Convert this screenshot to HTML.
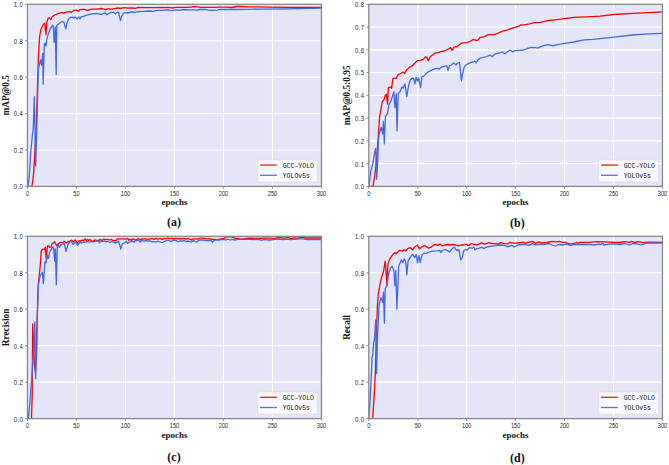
<!DOCTYPE html><html><head><meta charset="utf-8"><style>html,body{margin:0;padding:0;background:#fff;overflow:hidden}svg{display:block}</style></head><body><svg width="669" height="465" viewBox="0 0 669 465">
<rect width="669" height="465" fill="#fff"/>
<rect x="27.45" y="4.30" width="294.00" height="182.10" fill="#E4E6F8"/>
<path d="M76.45 4.30V186.40M125.45 4.30V186.40M174.45 4.30V186.40M223.45 4.30V186.40M272.45 4.30V186.40M27.45 149.98H321.45M27.45 113.56H321.45M27.45 77.14H321.45M27.45 40.72H321.45" stroke="#fff" stroke-width="1.1" fill="none"/>
<clipPath id="ca"><rect x="27.45" y="3.30" width="294.00" height="183.10"/></clipPath>
<path d="M29.30,186.40 32.00,186.20 33.30,176.70 34.40,160.70 35.30,143.30 36.30,126.00 36.80,110.00 37.40,88.00 38.30,60.00 39.60,36.40 40.90,29.50 43.00,25.20 44.70,23.00 46.00,34.60 46.90,21.70 48.20,18.30 49.50,17.90 50.80,19.60 52.00,17.00 54.60,14.90 56.00,14.80 58.40,13.30 60.20,13.00 62.00,12.40 63.80,13.30 65.60,12.10 67.40,12.10 68.90,11.50 70.40,11.80 71.60,12.40 73.40,10.60 75.20,10.00 77.00,10.30 78.50,11.20 80.00,9.70 82.30,9.40 84.70,9.40 86.50,10.30 88.30,10.00 90.70,9.40 93.10,9.10 96.40,9.10 98.80,8.80 101.20,8.50 103.60,9.10 106.00,9.70 108.40,8.50 110.80,9.40 113.20,8.80 115.60,8.50 118.00,7.90 120.30,8.50 122.70,7.90 125.10,7.60 127.50,8.20 129.90,7.90 132.00,8.00 135.60,8.30 138.00,7.40 144.00,7.70 150.00,7.70 156.00,7.70 161.90,7.40 165.50,7.70 167.90,7.40 170.00,7.70 172.40,8.00 176.00,7.40 182.00,7.30 188.00,7.30 194.00,6.70 197.50,6.80 201.10,7.40 205.90,7.40 214.00,7.40 220.00,7.10 226.00,7.10 232.00,7.50 236.70,6.50 241.50,6.50 248.00,6.80 258.00,6.80 270.00,7.10 286.00,7.40 321.45,7.30" stroke="#FF0000" stroke-width="1.3" fill="none" stroke-linejoin="round" clip-path="url(#ca)"/>
<path d="M28.00,186.40 29.30,176.70 30.70,152.70 32.00,139.30 33.30,127.30 34.30,96.60 35.70,166.00 36.80,128.00 37.50,100.00 38.40,69.00 40.50,59.90 41.60,65.30 42.70,53.40 43.20,84.10 44.30,44.10 45.20,43.20 46.00,46.20 46.90,38.90 48.60,32.90 50.80,27.80 52.50,25.20 53.30,26.50 54.20,42.40 55.30,26.90 56.20,74.40 56.80,25.20 58.90,23.90 60.70,22.20 62.70,21.50 64.00,22.40 65.80,29.10 67.20,22.40 68.60,18.70 70.40,17.50 72.80,17.20 74.00,18.40 75.20,16.90 77.00,19.00 78.80,16.90 80.00,19.00 81.10,16.90 83.50,16.30 85.90,15.40 88.30,14.80 90.70,14.20 93.10,13.60 94.00,13.90 96.40,13.30 98.80,13.90 101.20,14.50 103.60,13.30 105.40,13.00 106.90,14.80 109.00,13.30 111.40,12.40 113.20,12.10 115.60,13.90 117.40,12.10 118.60,12.40 119.40,16.00 120.40,20.60 121.50,16.60 123.30,13.60 125.10,12.70 127.50,13.00 129.90,12.40 132.00,11.90 135.00,12.50 138.00,11.60 144.00,11.30 150.00,11.00 153.00,11.30 157.10,10.40 161.90,10.40 167.90,9.80 170.00,10.40 172.40,10.70 176.00,9.80 180.80,10.10 183.20,9.50 188.00,9.90 194.00,9.80 196.90,10.10 199.90,9.50 205.90,9.30 208.30,10.10 210.40,10.40 214.00,10.40 217.00,10.10 218.80,9.50 226.00,9.50 234.90,9.50 248.00,9.30 264.00,9.10 286.00,8.90 300.00,8.60 321.45,8.20" stroke="#4169E1" stroke-width="1.3" fill="none" stroke-linejoin="round" clip-path="url(#ca)"/>
<rect x="257.75" y="159.80" width="59.4" height="22.2" rx="1.5" fill="#fff" fill-opacity="0.8" stroke="#d8d8d8" stroke-width="0.6"/>
<path d="M259.95 165.10h17" stroke="#FF0000" stroke-width="1.3" opacity="0.9"/>
<path d="M259.95 175.30h17" stroke="#4169E1" stroke-width="1.3" opacity="0.9"/>
<text x="282.65" y="167.80" font-family="Liberation Mono" font-size="7.6" fill="#111" textLength="31.4" lengthAdjust="spacingAndGlyphs">GCC-YOLO</text>
<text x="282.65" y="178.10" font-family="Liberation Mono" font-size="7.6" fill="#111" textLength="27.4" lengthAdjust="spacingAndGlyphs">YOLOv5s</text>
<rect x="27.45" y="4.30" width="294.00" height="182.10" fill="none" stroke="#858585" stroke-width="1.25"/>
<path d="M27.45 186.40v2.4M76.45 186.40v2.4M125.45 186.40v2.4M174.45 186.40v2.4M223.45 186.40v2.4M272.45 186.40v2.4M321.45 186.40v2.4M27.45 186.40h-2.4M27.45 149.98h-2.4M27.45 113.56h-2.4M27.45 77.14h-2.4M27.45 40.72h-2.4M27.45 4.30h-2.4" stroke="#858585" stroke-width="0.9"/>
<text transform="translate(27.45 195.80) scale(0.86 1)" font-family="Liberation Sans" font-size="6.5" fill="#222" text-anchor="middle">0</text>
<text transform="translate(76.45 195.80) scale(0.86 1)" font-family="Liberation Sans" font-size="6.5" fill="#222" text-anchor="middle">50</text>
<text transform="translate(125.45 195.80) scale(0.86 1)" font-family="Liberation Sans" font-size="6.5" fill="#222" text-anchor="middle">100</text>
<text transform="translate(174.45 195.80) scale(0.86 1)" font-family="Liberation Sans" font-size="6.5" fill="#222" text-anchor="middle">150</text>
<text transform="translate(223.45 195.80) scale(0.86 1)" font-family="Liberation Sans" font-size="6.5" fill="#222" text-anchor="middle">200</text>
<text transform="translate(272.45 195.80) scale(0.86 1)" font-family="Liberation Sans" font-size="6.5" fill="#222" text-anchor="middle">250</text>
<text transform="translate(321.45 195.80) scale(0.86 1)" font-family="Liberation Sans" font-size="6.5" fill="#222" text-anchor="middle">300</text>
<text transform="translate(23.15 189.30) scale(0.9 1)" font-family="Liberation Sans" font-size="6.6" fill="#222" text-anchor="end" letter-spacing="0.45">0.0</text>
<text transform="translate(23.15 152.88) scale(0.9 1)" font-family="Liberation Sans" font-size="6.6" fill="#222" text-anchor="end" letter-spacing="0.45">0.2</text>
<text transform="translate(23.15 116.46) scale(0.9 1)" font-family="Liberation Sans" font-size="6.6" fill="#222" text-anchor="end" letter-spacing="0.45">0.4</text>
<text transform="translate(23.15 80.04) scale(0.9 1)" font-family="Liberation Sans" font-size="6.6" fill="#222" text-anchor="end" letter-spacing="0.45">0.6</text>
<text transform="translate(23.15 43.62) scale(0.9 1)" font-family="Liberation Sans" font-size="6.6" fill="#222" text-anchor="end" letter-spacing="0.45">0.8</text>
<text transform="translate(23.15 7.20) scale(0.9 1)" font-family="Liberation Sans" font-size="6.6" fill="#222" text-anchor="end" letter-spacing="0.45">1.0</text>
<text x="174.45" y="205.30" font-family="Liberation Serif" font-weight="bold" font-size="9" fill="#111" text-anchor="middle">epochs</text>
<text transform="translate(9.20 95.35) rotate(-90)" font-family="Liberation Serif" font-weight="bold" font-size="9.3" fill="#111" text-anchor="middle">mAP@0.5</text>
<text x="174.00" y="226.30" font-family="Liberation Serif" font-weight="bold" font-size="12" fill="#111" text-anchor="middle">(a)</text>
<rect x="368.80" y="4.30" width="293.65" height="182.10" fill="#E4E6F8"/>
<path d="M417.74 4.30V186.40M466.68 4.30V186.40M515.62 4.30V186.40M564.57 4.30V186.40M613.51 4.30V186.40M368.80 163.64H662.45M368.80 140.88H662.45M368.80 118.11H662.45M368.80 95.35H662.45M368.80 72.59H662.45M368.80 49.83H662.45M368.80 27.06H662.45" stroke="#fff" stroke-width="1.1" fill="none"/>
<clipPath id="cb"><rect x="368.80" y="3.30" width="293.65" height="183.10"/></clipPath>
<path d="M370.80,186.40 373.00,186.00 374.60,176.60 376.20,163.70 377.30,150.00 378.40,135.00 379.60,117.20 380.80,110.10 382.30,101.80 383.80,100.10 385.20,95.40 386.40,94.10 387.50,104.00 388.40,87.70 390.30,87.00 391.60,88.30 392.90,78.70 394.80,78.00 396.10,78.70 398.00,74.80 400.60,73.50 403.20,72.20 404.50,73.50 406.40,70.30 409.60,67.10 412.20,65.80 414.80,63.20 417.40,60.60 420.00,60.60 423.20,59.30 425.70,56.80 426.90,57.40 428.20,60.60 430.20,56.80 432.70,54.80 435.30,52.90 437.90,52.90 440.50,51.60 444.40,51.00 448.20,49.00 450.80,47.70 452.10,50.30 454.00,47.10 457.30,46.50 461.10,43.20 466.30,42.60 470.20,41.30 473.40,39.40 476.60,40.60 478.30,39.90 480.00,37.30 483.90,36.80 487.90,34.80 490.90,34.30 492.90,34.80 497.80,33.30 501.80,31.30 507.70,29.80 511.70,28.40 515.60,27.20 518.60,26.40 520.60,24.90 524.50,24.90 529.50,23.90 534.40,22.70 540.00,22.30 547.90,20.70 560.80,19.10 573.70,17.40 586.70,16.80 600.00,16.10 614.00,14.50 632.30,13.40 648.40,12.70 662.45,11.80" stroke="#FF0000" stroke-width="1.3" fill="none" stroke-linejoin="round" clip-path="url(#cb)"/>
<path d="M368.70,186.40 369.50,182.00 370.80,171.60 372.80,163.80 374.70,152.20 375.70,148.40 376.60,179.30 377.60,163.80 378.60,138.70 379.20,133.80 380.20,130.20 381.40,127.30 382.60,133.80 383.50,121.40 384.30,143.80 385.50,116.00 387.30,114.30 389.10,104.20 390.90,101.20 392.60,95.90 393.80,91.80 395.00,107.80 396.20,93.60 397.00,130.80 398.20,93.60 400.30,91.20 401.90,87.00 403.20,88.30 404.90,83.80 406.80,96.70 408.60,85.70 410.30,80.00 412.20,78.00 413.80,78.70 414.80,83.80 416.10,77.40 417.40,81.20 418.70,78.00 420.60,87.70 421.90,76.70 423.80,76.10 425.70,74.10 427.70,72.20 428.90,71.60 432.70,69.70 436.60,68.40 439.20,69.00 441.80,67.10 445.60,65.80 446.90,65.80 448.00,70.30 449.50,65.80 451.30,65.00 453.40,62.90 454.70,63.80 456.00,65.00 457.30,63.30 459.50,62.50 460.30,69.80 461.40,81.00 462.50,74.10 464.20,67.20 466.30,64.60 468.90,63.30 470.60,62.50 472.80,62.00 474.90,61.20 476.20,62.90 477.90,59.90 480.00,58.20 482.60,57.70 486.50,56.50 490.30,55.20 492.30,56.70 494.80,53.90 499.40,53.00 502.60,51.90 504.50,53.90 507.10,51.90 510.30,50.00 512.30,51.90 514.80,50.60 518.70,50.30 523.90,50.00 527.10,48.50 531.60,47.40 535.50,47.70 537.60,48.20 542.70,45.80 547.90,44.60 553.10,45.80 557.00,44.60 564.70,43.30 573.70,42.00 584.10,39.80 593.10,39.40 600.00,38.70 614.00,37.10 632.30,35.00 648.40,33.90 662.45,33.40" stroke="#4169E1" stroke-width="1.3" fill="none" stroke-linejoin="round" clip-path="url(#cb)"/>
<rect x="598.75" y="159.80" width="59.4" height="22.2" rx="1.5" fill="#fff" fill-opacity="0.8" stroke="#d8d8d8" stroke-width="0.6"/>
<path d="M600.95 165.10h17" stroke="#FF0000" stroke-width="1.3" opacity="0.9"/>
<path d="M600.95 175.30h17" stroke="#4169E1" stroke-width="1.3" opacity="0.9"/>
<text x="623.65" y="167.80" font-family="Liberation Mono" font-size="7.6" fill="#111" textLength="31.4" lengthAdjust="spacingAndGlyphs">GCC-YOLO</text>
<text x="623.65" y="178.10" font-family="Liberation Mono" font-size="7.6" fill="#111" textLength="27.4" lengthAdjust="spacingAndGlyphs">YOLOv5s</text>
<rect x="368.80" y="4.30" width="293.65" height="182.10" fill="none" stroke="#858585" stroke-width="1.25"/>
<path d="M368.80 186.40v2.4M417.74 186.40v2.4M466.68 186.40v2.4M515.62 186.40v2.4M564.57 186.40v2.4M613.51 186.40v2.4M662.45 186.40v2.4M368.80 186.40h-2.4M368.80 163.64h-2.4M368.80 140.88h-2.4M368.80 118.11h-2.4M368.80 95.35h-2.4M368.80 72.59h-2.4M368.80 49.83h-2.4M368.80 27.06h-2.4M368.80 4.30h-2.4" stroke="#858585" stroke-width="0.9"/>
<text transform="translate(368.80 195.80) scale(0.86 1)" font-family="Liberation Sans" font-size="6.5" fill="#222" text-anchor="middle">0</text>
<text transform="translate(417.74 195.80) scale(0.86 1)" font-family="Liberation Sans" font-size="6.5" fill="#222" text-anchor="middle">50</text>
<text transform="translate(466.68 195.80) scale(0.86 1)" font-family="Liberation Sans" font-size="6.5" fill="#222" text-anchor="middle">100</text>
<text transform="translate(515.62 195.80) scale(0.86 1)" font-family="Liberation Sans" font-size="6.5" fill="#222" text-anchor="middle">150</text>
<text transform="translate(564.57 195.80) scale(0.86 1)" font-family="Liberation Sans" font-size="6.5" fill="#222" text-anchor="middle">200</text>
<text transform="translate(613.51 195.80) scale(0.86 1)" font-family="Liberation Sans" font-size="6.5" fill="#222" text-anchor="middle">250</text>
<text transform="translate(662.45 195.80) scale(0.86 1)" font-family="Liberation Sans" font-size="6.5" fill="#222" text-anchor="middle">300</text>
<text transform="translate(364.50 189.30) scale(0.9 1)" font-family="Liberation Sans" font-size="6.6" fill="#222" text-anchor="end" letter-spacing="0.45">0.0</text>
<text transform="translate(364.50 166.54) scale(0.9 1)" font-family="Liberation Sans" font-size="6.6" fill="#222" text-anchor="end" letter-spacing="0.45">0.1</text>
<text transform="translate(364.50 143.78) scale(0.9 1)" font-family="Liberation Sans" font-size="6.6" fill="#222" text-anchor="end" letter-spacing="0.45">0.2</text>
<text transform="translate(364.50 121.01) scale(0.9 1)" font-family="Liberation Sans" font-size="6.6" fill="#222" text-anchor="end" letter-spacing="0.45">0.3</text>
<text transform="translate(364.50 98.25) scale(0.9 1)" font-family="Liberation Sans" font-size="6.6" fill="#222" text-anchor="end" letter-spacing="0.45">0.4</text>
<text transform="translate(364.50 75.49) scale(0.9 1)" font-family="Liberation Sans" font-size="6.6" fill="#222" text-anchor="end" letter-spacing="0.45">0.5</text>
<text transform="translate(364.50 52.73) scale(0.9 1)" font-family="Liberation Sans" font-size="6.6" fill="#222" text-anchor="end" letter-spacing="0.45">0.6</text>
<text transform="translate(364.50 29.96) scale(0.9 1)" font-family="Liberation Sans" font-size="6.6" fill="#222" text-anchor="end" letter-spacing="0.45">0.7</text>
<text transform="translate(364.50 7.20) scale(0.9 1)" font-family="Liberation Sans" font-size="6.6" fill="#222" text-anchor="end" letter-spacing="0.45">0.8</text>
<text x="515.62" y="205.30" font-family="Liberation Serif" font-weight="bold" font-size="9" fill="#111" text-anchor="middle">epochs</text>
<text transform="translate(349.90 95.35) rotate(-90)" font-family="Liberation Serif" font-weight="bold" font-size="9.3" fill="#111" text-anchor="middle">mAP@0.5:0.95</text>
<text x="517.40" y="226.50" font-family="Liberation Serif" font-weight="bold" font-size="12" fill="#111" text-anchor="middle">(b)</text>
<rect x="27.45" y="236.30" width="294.00" height="182.30" fill="#E4E6F8"/>
<path d="M76.45 236.30V418.60M125.45 236.30V418.60M174.45 236.30V418.60M223.45 236.30V418.60M272.45 236.30V418.60M27.45 382.14H321.45M27.45 345.68H321.45M27.45 309.22H321.45M27.45 272.76H321.45" stroke="#fff" stroke-width="1.1" fill="none"/>
<clipPath id="cc"><rect x="27.45" y="235.30" width="294.00" height="183.30"/></clipPath>
<path d="M28.00,418.60 31.50,418.40 32.20,395.00 32.40,360.00 32.70,323.80 33.60,345.00 34.50,365.00 35.30,372.00 36.30,350.00 37.30,316.00 38.30,284.00 39.20,276.00 40.20,266.00 41.20,251.40 42.10,249.50 43.40,249.20 44.40,249.80 45.40,247.20 46.30,259.80 47.30,246.30 48.30,245.60 49.90,247.50 51.20,246.90 52.10,243.70 53.40,243.00 54.40,241.70 55.40,243.40 56.60,245.60 58.30,243.70 60.50,242.40 63.10,242.10 64.40,241.40 66.30,243.00 68.30,241.40 70.20,241.10 71.80,240.10 73.40,242.10 75.20,240.00 76.70,242.10 77.60,243.30 78.80,240.90 80.00,240.60 81.20,241.20 82.40,240.00 83.60,240.60 85.10,238.80 86.30,240.60 87.50,239.40 88.70,240.60 89.90,239.40 91.10,240.90 92.60,241.50 94.10,240.30 95.60,240.00 97.10,240.60 98.60,240.60 100.30,239.40 102.10,240.60 103.90,239.10 105.70,239.70 107.50,239.40 109.30,240.00 111.10,239.40 112.90,240.30 114.40,240.60 115.60,241.20 116.80,239.10 119.80,238.80 122.80,238.80 125.80,239.10 127.60,238.50 128.80,240.30 130.00,239.10 131.20,240.30 132.70,238.80 134.20,239.40 135.70,240.30 137.10,239.10 138.90,238.80 140.40,240.00 141.90,238.80 143.70,239.10 145.50,238.50 147.30,240.00 149.10,238.80 150.00,239.00 152.00,238.30 154.00,239.30 156.00,238.30 158.00,239.20 160.00,238.50 162.00,239.40 164.00,238.60 166.00,238.60 168.00,238.20 170.00,238.60 172.00,238.30 174.00,238.70 176.00,238.30 178.00,238.80 180.00,238.50 182.00,238.90 184.00,238.30 186.00,239.10 188.00,238.50 189.80,239.10 191.60,240.00 193.40,238.80 195.80,238.80 198.20,239.10 200.00,238.20 203.00,238.20 206.00,238.80 209.00,238.80 212.00,239.40 214.90,239.40 217.90,239.70 220.90,238.80 223.90,238.50 225.40,237.60 226.30,236.80 230.80,236.70 233.80,237.60 235.60,238.50 238.00,238.20 239.80,239.10 242.80,239.10 245.80,238.50 250.00,238.20 254.70,238.50 259.50,238.50 263.10,238.20 270.00,238.20 274.80,238.30 278.40,237.50 282.00,237.90 285.00,238.20 288.00,237.30 290.30,238.50 293.90,237.90 297.50,238.20 301.10,237.30 304.00,237.60 306.20,238.00 321.45,238.00" stroke="#FF0000" stroke-width="1.3" fill="none" stroke-linejoin="round" clip-path="url(#cc)"/>
<path d="M28.40,418.60 30.90,390.00 33.70,350.00 34.80,322.00 35.60,378.70 36.80,350.00 37.30,316.00 38.30,286.00 38.60,284.80 38.10,286.50 40.20,275.70 41.30,274.00 42.40,272.50 43.40,283.70 44.50,268.00 45.00,261.70 46.00,263.00 47.30,255.30 48.30,258.50 49.50,252.70 50.50,250.50 51.50,249.50 52.80,246.90 53.70,248.80 54.70,261.10 55.40,248.80 56.30,284.80 57.30,245.30 58.30,244.60 59.20,247.50 60.50,245.30 61.80,244.30 63.10,243.70 64.40,244.00 66.00,251.40 67.60,245.60 68.90,243.00 70.20,241.40 71.80,242.40 73.40,244.30 74.70,243.00 76.00,242.40 77.30,245.10 78.80,243.90 80.00,241.80 81.20,243.00 82.70,242.40 84.20,241.80 86.00,242.10 87.80,241.50 89.60,242.10 91.40,241.50 93.20,241.80 95.00,241.50 96.80,240.90 98.60,241.20 99.40,243.00 100.60,241.20 102.70,241.50 104.50,240.90 106.30,241.80 108.10,241.50 109.90,242.40 111.70,241.50 113.80,242.10 115.60,243.00 117.40,241.80 118.60,241.50 119.80,245.40 120.70,249.00 121.60,245.70 122.80,243.60 124.60,243.00 126.40,241.20 127.60,243.60 128.80,242.40 130.60,241.80 132.40,240.90 134.20,242.40 135.40,240.30 137.10,240.60 138.90,240.60 140.10,242.10 141.30,240.60 143.70,240.90 145.50,240.60 147.90,241.20 150.30,240.90 151.80,241.80 153.60,241.50 155.40,242.10 157.20,241.50 159.00,241.50 160.80,242.10 162.60,242.40 164.40,241.50 166.20,240.60 168.00,240.00 169.80,240.90 171.60,241.50 173.40,240.00 175.10,240.30 176.90,241.20 178.70,241.50 180.50,240.90 182.30,241.20 184.10,240.60 185.90,241.50 188.00,241.20 189.80,241.50 191.60,242.10 193.40,240.60 195.20,241.50 196.70,242.10 198.20,240.90 200.00,240.00 203.00,240.00 206.00,240.60 209.00,240.30 211.10,240.60 212.30,242.40 213.40,240.90 216.10,240.00 219.10,240.00 221.50,239.70 223.90,239.40 225.70,240.00 226.90,239.40 228.40,239.40 230.20,240.00 232.00,239.40 235.00,240.00 238.00,239.40 244.00,239.40 250.00,239.30 252.90,239.70 255.90,239.40 259.50,239.70 261.60,240.50 263.10,239.70 270.00,240.00 274.80,239.40 280.80,239.40 283.20,239.70 288.00,239.10 290.30,239.70 293.90,239.40 297.50,239.10 299.90,238.80 304.00,238.80 306.20,239.60 321.45,239.50" stroke="#4169E1" stroke-width="1.3" fill="none" stroke-linejoin="round" clip-path="url(#cc)"/>
<rect x="257.75" y="392.00" width="59.4" height="22.2" rx="1.5" fill="#fff" fill-opacity="0.8" stroke="#d8d8d8" stroke-width="0.6"/>
<path d="M259.95 397.30h17" stroke="#FF0000" stroke-width="1.3" opacity="0.9"/>
<path d="M259.95 407.50h17" stroke="#4169E1" stroke-width="1.3" opacity="0.9"/>
<text x="282.65" y="400.00" font-family="Liberation Mono" font-size="7.6" fill="#111" textLength="31.4" lengthAdjust="spacingAndGlyphs">GCC-YOLO</text>
<text x="282.65" y="410.30" font-family="Liberation Mono" font-size="7.6" fill="#111" textLength="27.4" lengthAdjust="spacingAndGlyphs">YOLOv5s</text>
<rect x="27.45" y="236.30" width="294.00" height="182.30" fill="none" stroke="#858585" stroke-width="1.25"/>
<path d="M27.45 418.60v2.4M76.45 418.60v2.4M125.45 418.60v2.4M174.45 418.60v2.4M223.45 418.60v2.4M272.45 418.60v2.4M321.45 418.60v2.4M27.45 418.60h-2.4M27.45 382.14h-2.4M27.45 345.68h-2.4M27.45 309.22h-2.4M27.45 272.76h-2.4M27.45 236.30h-2.4" stroke="#858585" stroke-width="0.9"/>
<text transform="translate(27.45 428.00) scale(0.86 1)" font-family="Liberation Sans" font-size="6.5" fill="#222" text-anchor="middle">0</text>
<text transform="translate(76.45 428.00) scale(0.86 1)" font-family="Liberation Sans" font-size="6.5" fill="#222" text-anchor="middle">50</text>
<text transform="translate(125.45 428.00) scale(0.86 1)" font-family="Liberation Sans" font-size="6.5" fill="#222" text-anchor="middle">100</text>
<text transform="translate(174.45 428.00) scale(0.86 1)" font-family="Liberation Sans" font-size="6.5" fill="#222" text-anchor="middle">150</text>
<text transform="translate(223.45 428.00) scale(0.86 1)" font-family="Liberation Sans" font-size="6.5" fill="#222" text-anchor="middle">200</text>
<text transform="translate(272.45 428.00) scale(0.86 1)" font-family="Liberation Sans" font-size="6.5" fill="#222" text-anchor="middle">250</text>
<text transform="translate(321.45 428.00) scale(0.86 1)" font-family="Liberation Sans" font-size="6.5" fill="#222" text-anchor="middle">300</text>
<text transform="translate(23.15 421.50) scale(0.9 1)" font-family="Liberation Sans" font-size="6.6" fill="#222" text-anchor="end" letter-spacing="0.45">0.0</text>
<text transform="translate(23.15 385.04) scale(0.9 1)" font-family="Liberation Sans" font-size="6.6" fill="#222" text-anchor="end" letter-spacing="0.45">0.2</text>
<text transform="translate(23.15 348.58) scale(0.9 1)" font-family="Liberation Sans" font-size="6.6" fill="#222" text-anchor="end" letter-spacing="0.45">0.4</text>
<text transform="translate(23.15 312.12) scale(0.9 1)" font-family="Liberation Sans" font-size="6.6" fill="#222" text-anchor="end" letter-spacing="0.45">0.6</text>
<text transform="translate(23.15 275.66) scale(0.9 1)" font-family="Liberation Sans" font-size="6.6" fill="#222" text-anchor="end" letter-spacing="0.45">0.8</text>
<text transform="translate(23.15 239.20) scale(0.9 1)" font-family="Liberation Sans" font-size="6.6" fill="#222" text-anchor="end" letter-spacing="0.45">1.0</text>
<text x="174.45" y="437.50" font-family="Liberation Serif" font-weight="bold" font-size="9" fill="#111" text-anchor="middle">epochs</text>
<text transform="translate(9.20 327.45) rotate(-90)" font-family="Liberation Serif" font-weight="bold" font-size="9.3" fill="#111" text-anchor="middle">Rrecision</text>
<text x="174.00" y="460.80" font-family="Liberation Serif" font-weight="bold" font-size="12" fill="#111" text-anchor="middle">(c)</text>
<rect x="368.80" y="236.30" width="293.65" height="182.30" fill="#E4E6F8"/>
<path d="M417.74 236.30V418.60M466.68 236.30V418.60M515.62 236.30V418.60M564.57 236.30V418.60M613.51 236.30V418.60M368.80 382.14H662.45M368.80 345.68H662.45M368.80 309.22H662.45M368.80 272.76H662.45" stroke="#fff" stroke-width="1.1" fill="none"/>
<clipPath id="cd"><rect x="368.80" y="235.30" width="293.65" height="183.30"/></clipPath>
<path d="M369.40,418.60 372.70,418.40 373.30,409.20 374.40,392.40 375.50,370.00 376.30,340.00 376.90,320.00 377.50,304.30 378.30,293.90 380.10,283.60 381.80,276.70 383.50,271.50 385.20,261.20 387.00,285.30 387.80,264.60 389.60,259.40 391.00,257.10 393.10,254.10 395.40,252.60 396.00,253.90 399.60,250.30 402.30,251.20 404.10,249.90 405.90,250.80 407.70,248.60 410.30,247.70 412.60,249.90 414.80,246.80 417.50,245.00 419.30,249.00 422.00,246.80 424.70,245.40 427.00,247.20 428.80,248.10 431.50,246.80 433.80,245.00 436.00,244.50 437.80,245.40 440.00,244.10 442.30,245.90 445.00,245.00 447.70,244.50 450.40,245.00 453.00,244.50 455.70,245.00 458.40,245.90 461.10,245.00 463.80,245.00 466.50,244.10 467.80,245.40 469.00,245.40 471.30,243.60 474.00,244.50 476.70,245.00 479.30,244.10 481.60,242.70 483.80,244.10 486.50,243.60 488.80,242.70 491.90,243.60 495.50,243.60 498.20,244.10 500.90,242.70 504.50,243.60 508.00,243.90 509.80,242.30 513.40,243.20 517.00,243.20 521.50,242.30 523.60,242.30 525.40,243.20 528.10,242.30 532.60,241.40 535.20,243.20 538.80,242.10 542.40,243.00 546.90,242.50 552.30,241.40 555.90,241.80 559.50,241.40 562.20,242.30 565.70,242.50 568.40,243.60 572.00,244.10 576.50,242.50 577.70,243.20 580.40,242.30 588.50,242.30 597.40,241.60 606.40,241.80 615.40,242.50 620.00,242.50 625.00,241.60 629.30,242.30 631.50,241.40 634.30,242.50 638.70,241.60 643.00,242.60 647.30,242.10 662.45,242.30" stroke="#FF0000" stroke-width="1.3" fill="none" stroke-linejoin="round" clip-path="url(#cd)"/>
<path d="M368.80,418.60 369.90,403.60 371.00,381.20 371.60,370.00 371.90,358.10 372.80,354.80 373.70,341.90 374.40,340.30 375.80,319.80 376.60,373.40 377.50,336.00 379.20,304.30 380.90,297.40 382.70,302.60 383.50,292.20 384.40,323.20 385.20,288.80 387.00,285.30 388.70,273.20 390.40,268.10 392.10,266.30 393.90,271.00 394.90,285.70 395.80,270.60 396.90,309.00 398.70,266.50 401.40,259.80 402.70,262.50 404.50,258.90 405.90,262.90 406.80,274.60 408.10,261.10 410.30,257.10 412.60,254.40 414.80,257.50 416.20,254.40 417.50,262.90 418.90,255.70 420.20,262.50 422.00,254.80 424.70,253.00 426.10,253.50 428.80,252.10 432.40,251.20 436.90,250.80 439.60,250.30 440.90,252.60 442.30,250.30 445.00,249.50 447.70,250.80 449.50,252.10 452.20,248.60 454.40,247.20 456.60,250.30 458.90,249.50 460.70,259.80 462.00,258.40 463.80,250.80 465.60,249.50 466.80,250.30 469.50,247.70 472.20,248.10 474.00,247.20 474.90,249.90 476.70,248.60 479.30,248.10 481.60,247.20 483.40,248.60 486.50,247.20 490.10,246.30 493.70,245.90 497.30,245.40 500.90,245.00 504.50,245.40 508.00,246.80 511.60,245.40 514.30,246.80 517.90,245.00 521.50,244.50 525.40,244.50 529.00,245.40 532.60,243.60 535.20,245.00 539.70,244.10 544.20,244.50 548.70,243.60 552.30,245.00 555.40,246.00 558.60,244.50 562.20,245.00 566.60,244.10 570.20,245.40 573.80,244.50 579.50,244.50 588.50,244.30 593.80,245.00 598.30,244.10 601.00,244.50 602.80,243.20 604.10,245.00 609.10,244.10 615.40,243.90 620.00,244.60 624.30,243.50 629.30,245.00 632.90,243.50 637.20,243.90 640.80,245.00 644.40,243.90 647.30,243.00 662.45,243.20" stroke="#4169E1" stroke-width="1.3" fill="none" stroke-linejoin="round" clip-path="url(#cd)"/>
<rect x="598.75" y="392.00" width="59.4" height="22.2" rx="1.5" fill="#fff" fill-opacity="0.8" stroke="#d8d8d8" stroke-width="0.6"/>
<path d="M600.95 397.30h17" stroke="#FF0000" stroke-width="1.3" opacity="0.9"/>
<path d="M600.95 407.50h17" stroke="#4169E1" stroke-width="1.3" opacity="0.9"/>
<text x="623.65" y="400.00" font-family="Liberation Mono" font-size="7.6" fill="#111" textLength="31.4" lengthAdjust="spacingAndGlyphs">GCC-YOLO</text>
<text x="623.65" y="410.30" font-family="Liberation Mono" font-size="7.6" fill="#111" textLength="27.4" lengthAdjust="spacingAndGlyphs">YOLOv5s</text>
<rect x="368.80" y="236.30" width="293.65" height="182.30" fill="none" stroke="#858585" stroke-width="1.25"/>
<path d="M368.80 418.60v2.4M417.74 418.60v2.4M466.68 418.60v2.4M515.62 418.60v2.4M564.57 418.60v2.4M613.51 418.60v2.4M662.45 418.60v2.4M368.80 418.60h-2.4M368.80 382.14h-2.4M368.80 345.68h-2.4M368.80 309.22h-2.4M368.80 272.76h-2.4M368.80 236.30h-2.4" stroke="#858585" stroke-width="0.9"/>
<text transform="translate(368.80 428.00) scale(0.86 1)" font-family="Liberation Sans" font-size="6.5" fill="#222" text-anchor="middle">0</text>
<text transform="translate(417.74 428.00) scale(0.86 1)" font-family="Liberation Sans" font-size="6.5" fill="#222" text-anchor="middle">50</text>
<text transform="translate(466.68 428.00) scale(0.86 1)" font-family="Liberation Sans" font-size="6.5" fill="#222" text-anchor="middle">100</text>
<text transform="translate(515.62 428.00) scale(0.86 1)" font-family="Liberation Sans" font-size="6.5" fill="#222" text-anchor="middle">150</text>
<text transform="translate(564.57 428.00) scale(0.86 1)" font-family="Liberation Sans" font-size="6.5" fill="#222" text-anchor="middle">200</text>
<text transform="translate(613.51 428.00) scale(0.86 1)" font-family="Liberation Sans" font-size="6.5" fill="#222" text-anchor="middle">250</text>
<text transform="translate(662.45 428.00) scale(0.86 1)" font-family="Liberation Sans" font-size="6.5" fill="#222" text-anchor="middle">300</text>
<text transform="translate(364.50 421.50) scale(0.9 1)" font-family="Liberation Sans" font-size="6.6" fill="#222" text-anchor="end" letter-spacing="0.45">0.0</text>
<text transform="translate(364.50 385.04) scale(0.9 1)" font-family="Liberation Sans" font-size="6.6" fill="#222" text-anchor="end" letter-spacing="0.45">0.2</text>
<text transform="translate(364.50 348.58) scale(0.9 1)" font-family="Liberation Sans" font-size="6.6" fill="#222" text-anchor="end" letter-spacing="0.45">0.4</text>
<text transform="translate(364.50 312.12) scale(0.9 1)" font-family="Liberation Sans" font-size="6.6" fill="#222" text-anchor="end" letter-spacing="0.45">0.6</text>
<text transform="translate(364.50 275.66) scale(0.9 1)" font-family="Liberation Sans" font-size="6.6" fill="#222" text-anchor="end" letter-spacing="0.45">0.8</text>
<text transform="translate(364.50 239.20) scale(0.9 1)" font-family="Liberation Sans" font-size="6.6" fill="#222" text-anchor="end" letter-spacing="0.45">1.0</text>
<text x="515.62" y="437.50" font-family="Liberation Serif" font-weight="bold" font-size="9" fill="#111" text-anchor="middle">epochs</text>
<text transform="translate(349.90 327.45) rotate(-90)" font-family="Liberation Serif" font-weight="bold" font-size="9.3" fill="#111" text-anchor="middle">Recall</text>
<text x="517.40" y="461.80" font-family="Liberation Serif" font-weight="bold" font-size="12" fill="#111" text-anchor="middle">(d)</text>
</svg></body></html>
